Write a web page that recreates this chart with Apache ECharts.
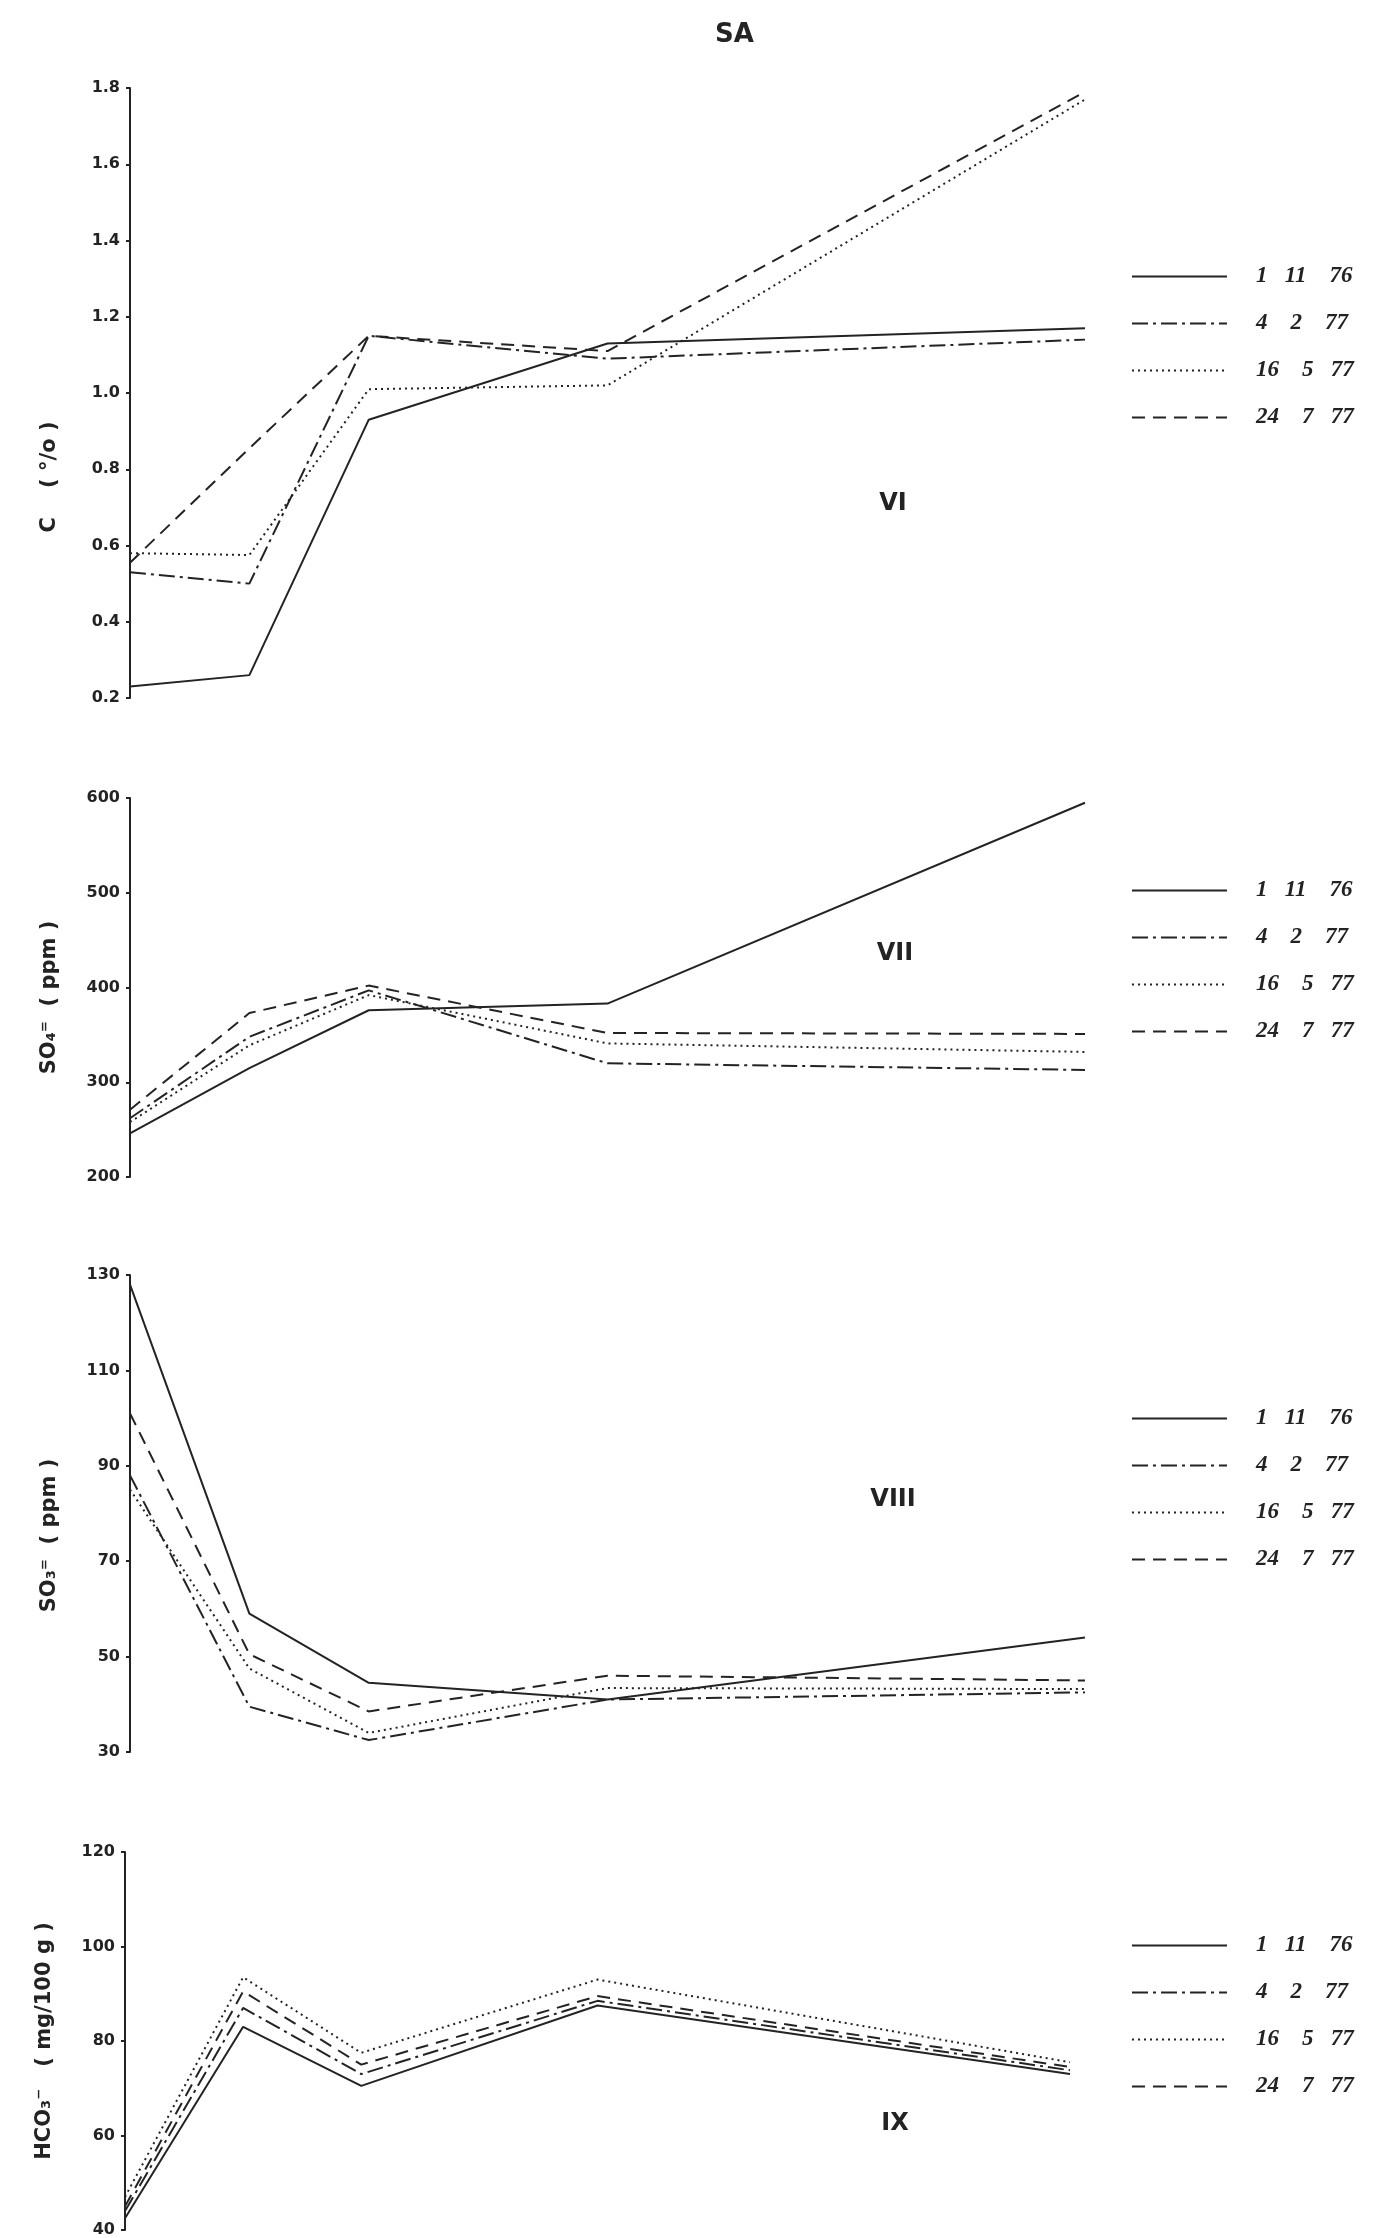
<!DOCTYPE html>
<html>
<head>
<meta charset="utf-8">
<title>SA</title>
<script src="https://cdn.jsdelivr.net/npm/echarts@6/dist/echarts.min.js"></script>
<style>
  html, body { margin: 0; padding: 0; background: #fff; }
  #chart { width: 1375px; height: 2238px; }
</style>
</head>
<body>
<div id="chart"></div>
<script>
// Sampling depths (cm) – positions along the horizontal (unlabelled) axis
const depth = [0, 5, 10, 20, 40];

// Sampling dates
const dates = ['1 11 76', '4 2 77', '16 5 77', '24 7 77'];
const dateLabels = ['1   11    76', '4    2    77', '16    5   77', '24    7   77'];

// VI – organic carbon, C (%)
const carbon_1_11_76 = [0.23, 0.26, 0.93, 1.13, 1.17];
const carbon_4_2_77  = [0.53, 0.50, 1.15, 1.09, 1.14];
const carbon_16_5_77 = [0.58, 0.575, 1.01, 1.02, 1.77];
const carbon_24_7_77 = [0.555, 0.855, 1.15, 1.11, 1.79];

// VII – sulphate, SO4= (ppm)
const so4_1_11_76 = [246, 315, 376, 383, 595];
const so4_4_2_77  = [262, 348, 397, 320, 313];
const so4_16_5_77 = [258, 339, 392, 341, 332];
const so4_24_7_77 = [271, 373, 402, 352, 351];

// VIII – sulphite, SO3= (ppm)
const so3_1_11_76 = [128, 59, 44.5, 41, 54];
const so3_4_2_77  = [88, 39.5, 32.5, 41, 42.5];
const so3_16_5_77 = [85, 47.5, 34, 43.4, 43.2];
const so3_24_7_77 = [101, 50.5, 38.5, 46, 45];

// IX – bicarbonate, HCO3- (mg/100 g)
const hco3_1_11_76 = [42.5, 83, 70.5, 87.5, 73];
const hco3_4_2_77  = [44, 87, 73, 88.5, 73.8];
const hco3_16_5_77 = [47, 93.5, 77.5, 93, 75.5];
const hco3_24_7_77 = [45, 90.5, 75, 89.5, 74.5];

// Axis ranges / tick steps
const carbonTicks = [0.2, 1.8, 0.2];
const so4Ticks = [200, 600, 100];
const so3Ticks = [30, 130, 20];
const hco3Ticks = [40, 120, 20];

const ink = '#232323';
const dashStyles = ['solid', [16, 5, 3, 5], [2, 4], [13, 8]];

const panels = [
  { numeral: 'VI', name: 'C    ( °/o )', ticks: carbonTicks, decimals: 1,
    values: [carbon_1_11_76, carbon_4_2_77, carbon_16_5_77, carbon_24_7_77],
    grid: { left: 130, right: 290, top: 88, height: 610 },
    namePad: [0, 168, 0, 0], legendTop: 260, numeralPos: [893, 504] },
  { numeral: 'VII', name: 'SO₄⁼  ( ppm )', ticks: so4Ticks, decimals: 0,
    values: [so4_1_11_76, so4_4_2_77, so4_16_5_77, so4_24_7_77],
    grid: { left: 130, right: 290, top: 798, height: 379 },
    namePad: [0, 20, 0, 0], legendTop: 874, numeralPos: [895, 954] },
  { numeral: 'VIII', name: 'SO₃⁼  ( ppm )', ticks: so3Ticks, decimals: 0,
    values: [so3_1_11_76, so3_4_2_77, so3_16_5_77, so3_24_7_77],
    grid: { left: 130, right: 290, top: 1275, height: 477 },
    namePad: [0, 44, 0, 0], legendTop: 1402, numeralPos: [893, 1500] },
  { numeral: 'IX', name: 'HCO₃⁻   ( mg/100 g )', ticks: hco3Ticks, decimals: 0,
    values: [hco3_1_11_76, hco3_4_2_77, hco3_16_5_77, hco3_24_7_77],
    grid: { left: 125, right: 305, top: 1852, height: 378 },
    namePad: [0, 0, 0, 0], legendTop: 1929, numeralPos: [895, 2124] }
];

const grids = [], xAxes = [], yAxes = [], series = [], legends = [], graphics = [];

graphics.push({
  type: 'text', left: 715, top: 22,
  style: { text: 'SA', fontSize: 26, fontWeight: 'bold', fontFamily: 'DejaVu Sans', fill: ink }
});

panels.forEach((p, i) => {
  grids.push(p.grid);
  xAxes.push({ type: 'value', gridIndex: i, min: 0, max: 40, show: false });
  yAxes.push({
    type: 'value', gridIndex: i,
    min: p.ticks[0], max: p.ticks[1], interval: p.ticks[2],
    name: p.name, nameLocation: 'middle', nameGap: 70, nameRotate: 90,
    nameTextStyle: { fontSize: 21, fontWeight: 'bold', fontFamily: 'DejaVu Sans', color: ink, padding: p.namePad },
    axisLine: { show: true, lineStyle: { color: ink, width: 2 } },
    axisTick: { show: true, length: 4, lineStyle: { color: ink, width: 2 } },
    splitLine: { show: false },
    axisLabel: {
      fontSize: 16, fontWeight: 'bold', fontFamily: 'DejaVu Sans', color: ink, margin: 10,
      formatter: v => Number(v).toFixed(p.decimals)
    }
  });
  p.values.forEach((vals, k) => {
    series.push({
      type: 'line', name: dates[k], xAxisIndex: i, yAxisIndex: i,
      symbol: 'none', silent: true, animation: false,
      data: depth.map((d, j) => [d, vals[j]]),
      lineStyle: { color: ink, width: 2, type: dashStyles[k] },
      itemStyle: { color: ink }
    });
  });
  legends.push({
    orient: 'vertical', left: 1126, top: p.legendTop,
    itemWidth: 95, itemHeight: 14, itemGap: 24,
    data: dates, selectedMode: false,
    itemStyle: { opacity: 0 },
    formatter: n => dateLabels[dates.indexOf(n)],
    textStyle: { fontSize: 23, fontStyle: 'italic', fontWeight: 'bold', fontFamily: 'Liberation Serif', color: ink, padding: [0, 0, 0, 24] }
  });
  graphics.push({
    type: 'text', x: p.numeralPos[0], y: p.numeralPos[1],
    style: { text: p.numeral, fontSize: 24, fontWeight: 'bold', fontFamily: 'DejaVu Sans', fill: ink,
             textAlign: 'center', textVerticalAlign: 'middle' }
  });
});

const chart = echarts.init(document.getElementById('chart'), null, { renderer: 'canvas' });
chart.setOption({
  backgroundColor: '#fff',
  animation: false,
  grid: grids, xAxis: xAxes, yAxis: yAxes,
  legend: legends, series: series, graphic: graphics
});
</script>
</body>
</html>
